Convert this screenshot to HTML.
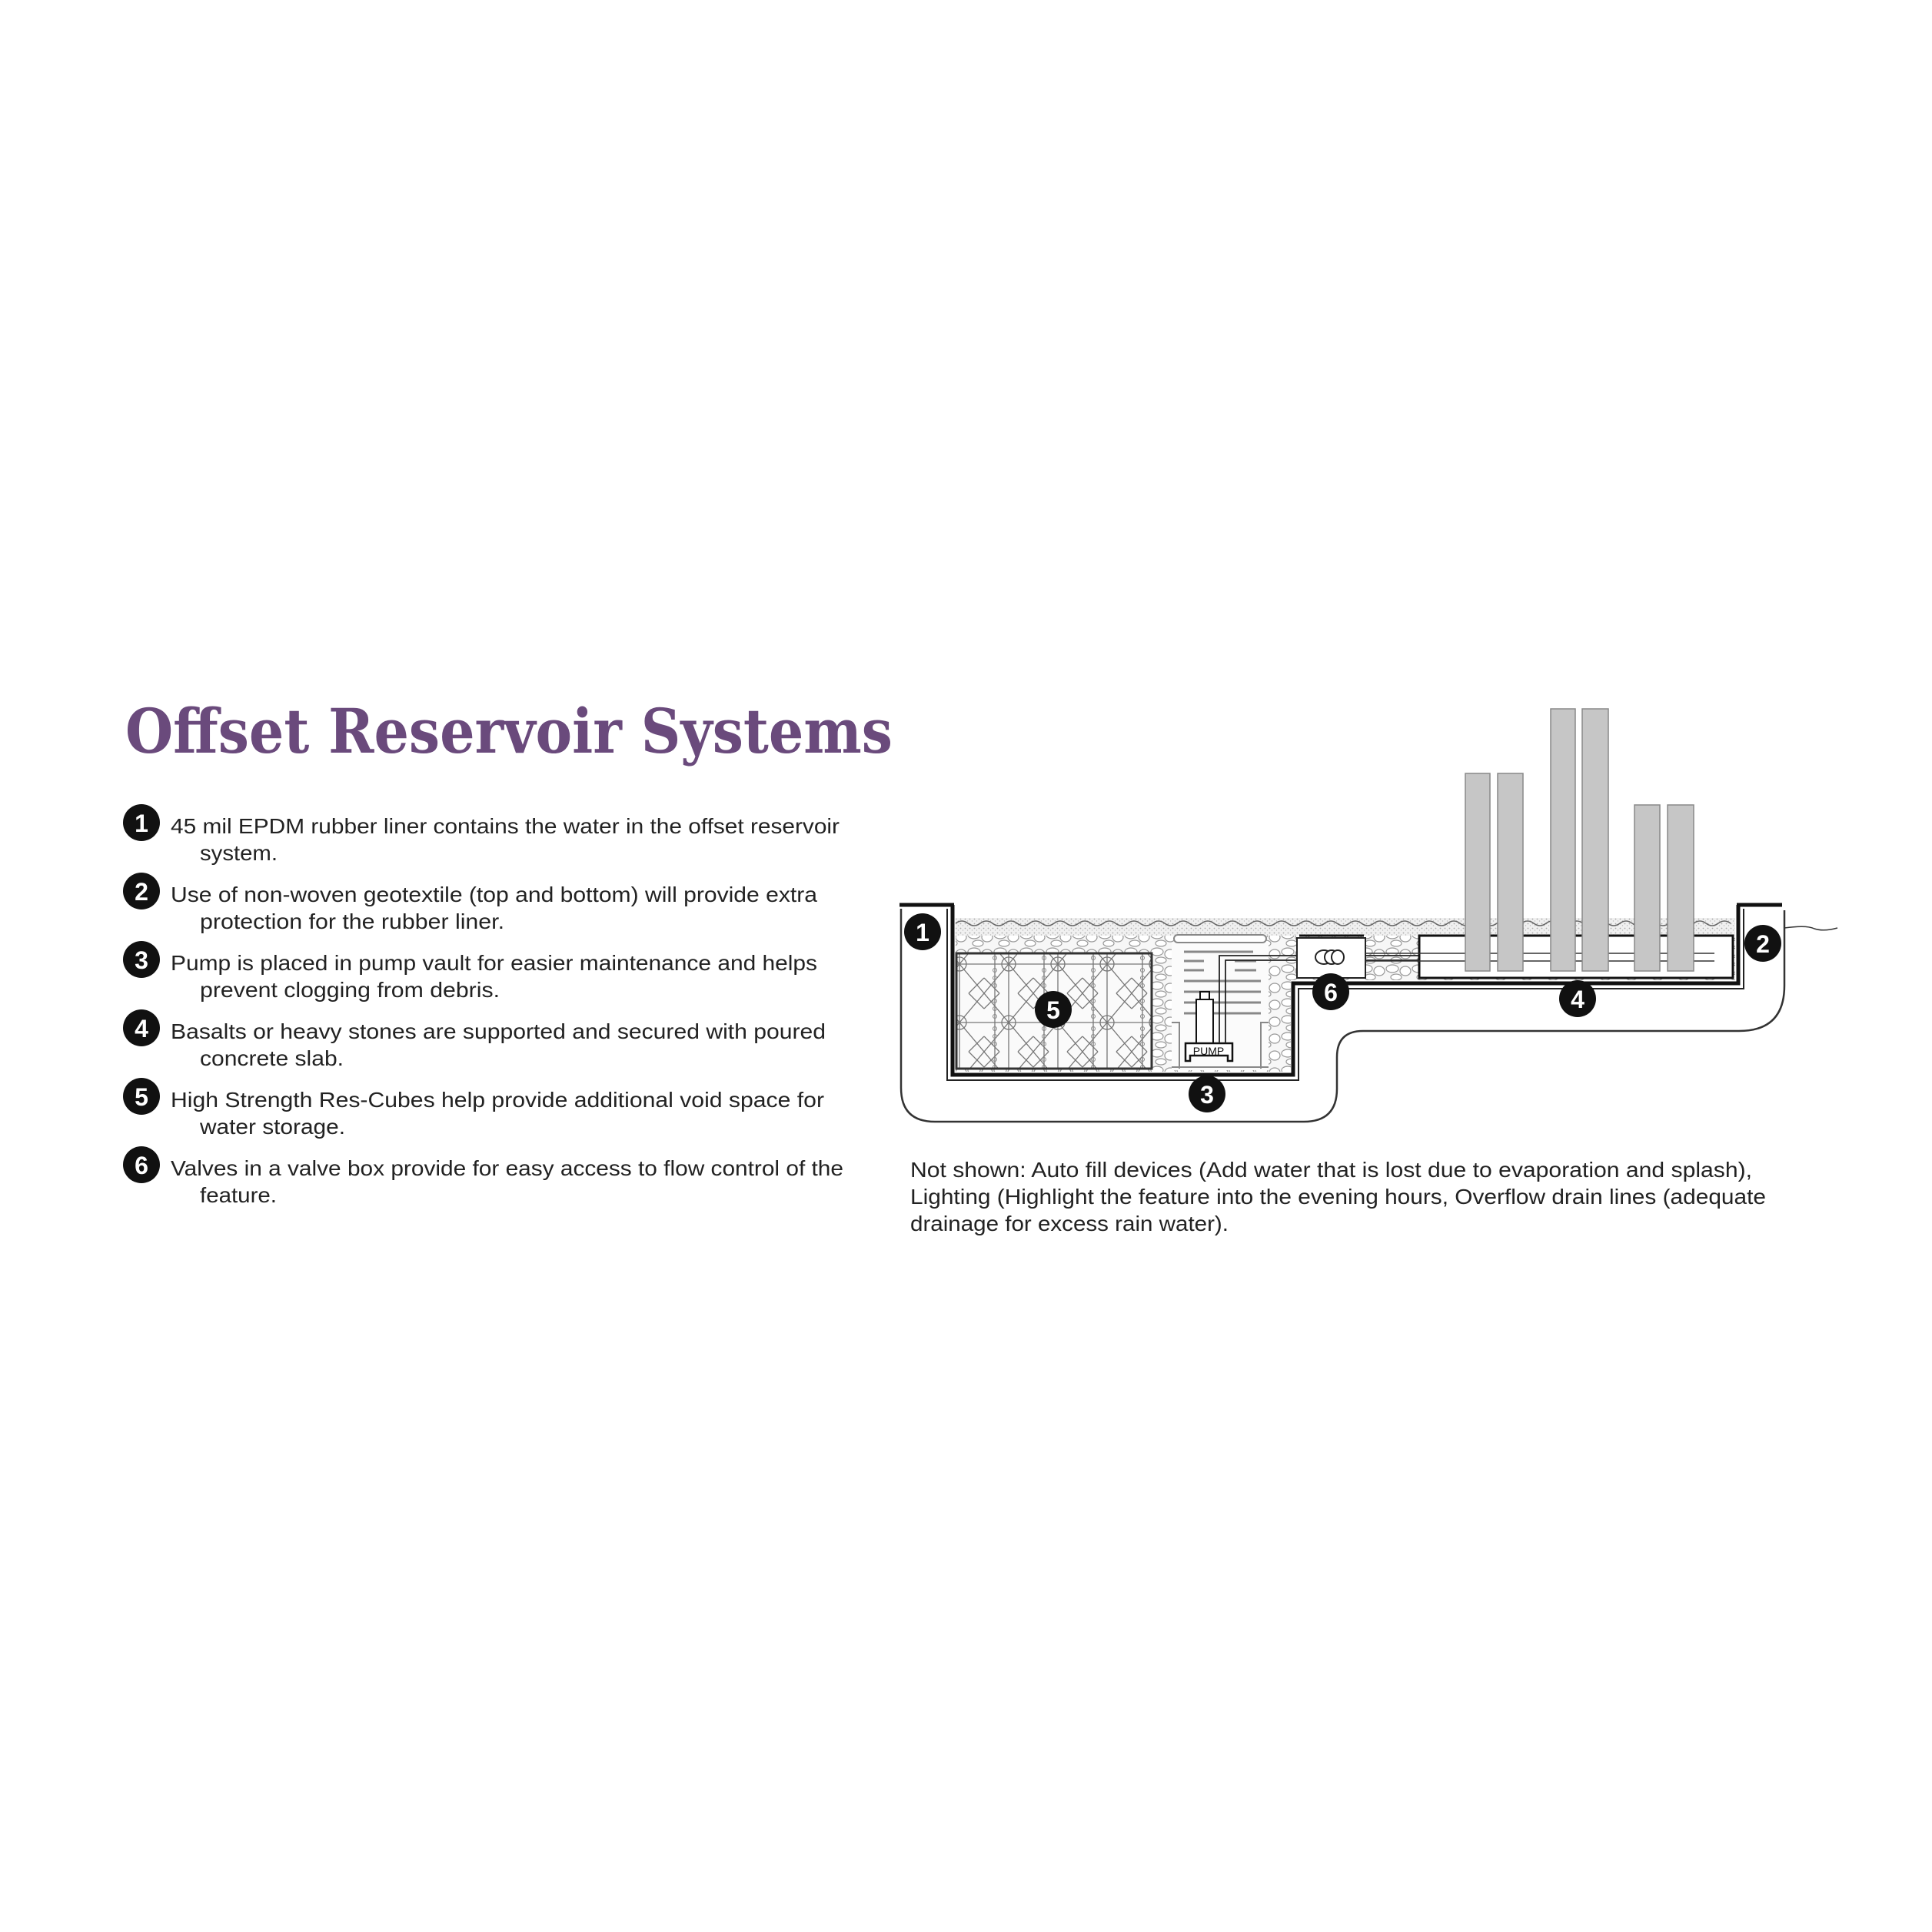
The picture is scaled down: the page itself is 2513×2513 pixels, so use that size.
<!DOCTYPE html>
<html><head><meta charset="utf-8"><style>
html,body{margin:0;padding:0;background:#fff;}
svg{display:block;}
</style></head><body>
<svg width="2513" height="2513" viewBox="0 0 2513 2513" xmlns="http://www.w3.org/2000/svg">
<defs>
<pattern id="grav" width="6" height="6" patternUnits="userSpaceOnUse">
<rect width="6" height="6" fill="#f0f0f0"/><circle cx="1.5" cy="1.5" r="0.9" fill="#aaa"/><circle cx="4.5" cy="4" r="0.7" fill="#bbb"/>
</pattern>
<pattern id="stone" width="34" height="22" patternUnits="userSpaceOnUse">
<rect width="34" height="22" fill="#f7f7f7"/>
<ellipse cx="9" cy="6" rx="8" ry="5" fill="#fff" stroke="#999" stroke-width="1.2"/>
<ellipse cx="26" cy="9" rx="7" ry="6" fill="#fff" stroke="#999" stroke-width="1.2"/>
<ellipse cx="14" cy="17" rx="7" ry="4" fill="#fff" stroke="#999" stroke-width="1.2"/>
</pattern>
<pattern id="cube" width="64" height="76" patternUnits="userSpaceOnUse">
<rect width="64" height="76" fill="#fafafa"/>
<g stroke="#777" stroke-width="1.3" fill="none">
<path d="M0,0 L32,38 L0,76 M64,0 L32,38 L64,76 M0,38 H64 M32,0 V76"/>
<path d="M0,20 L20,0 M44,0 L64,20 M0,56 L20,76 M44,76 L64,56"/>
<circle cx="32" cy="38" r="9"/>
<line x1="14" y1="0" x2="14" y2="76"/>
</g>
<g fill="none" stroke="#888" stroke-width="1"><circle cx="14" cy="10" r="2.5"/><circle cx="14" cy="20" r="2.5"/><circle cx="14" cy="30" r="2.5"/><circle cx="14" cy="46" r="2.5"/><circle cx="14" cy="56" r="2.5"/><circle cx="14" cy="66" r="2.5"/></g>
</pattern>
</defs>

<text x="163" y="979" font-family="'DejaVu Serif','Liberation Serif',serif" font-weight="bold" font-size="80" fill="#6a4a7c" textLength="998" lengthAdjust="spacingAndGlyphs">Offset Reservoir Systems</text>

<g font-family="'Liberation Sans',sans-serif" font-size="28" fill="#222">
<g>
<circle cx="184" cy="1070" r="24" fill="#111"/><text x="184" y="1082" font-size="32" font-weight="bold" fill="#fff" text-anchor="middle">1</text>
<text x="222" y="1084" textLength="870" lengthAdjust="spacingAndGlyphs">45 mil EPDM rubber liner contains the water in the offset reservoir</text>
<text x="260" y="1119" textLength="101" lengthAdjust="spacingAndGlyphs">system.</text>
</g>
<g>
<circle cx="184" cy="1159" r="24" fill="#111"/><text x="184" y="1171" font-size="32" font-weight="bold" fill="#fff" text-anchor="middle">2</text>
<text x="222" y="1173" textLength="841" lengthAdjust="spacingAndGlyphs">Use of non-woven geotextile (top and bottom) will provide extra</text>
<text x="260" y="1208" textLength="396" lengthAdjust="spacingAndGlyphs">protection for the rubber liner.</text>
</g>
<g>
<circle cx="184" cy="1248" r="24" fill="#111"/><text x="184" y="1260" font-size="32" font-weight="bold" fill="#fff" text-anchor="middle">3</text>
<text x="222" y="1262" textLength="841" lengthAdjust="spacingAndGlyphs">Pump is placed in pump vault for easier maintenance and helps</text>
<text x="260" y="1297" textLength="390" lengthAdjust="spacingAndGlyphs">prevent clogging from debris.</text>
</g>
<g>
<circle cx="184" cy="1337" r="24" fill="#111"/><text x="184" y="1349" font-size="32" font-weight="bold" fill="#fff" text-anchor="middle">4</text>
<text x="222" y="1351" textLength="852" lengthAdjust="spacingAndGlyphs">Basalts or heavy stones are supported and secured with poured</text>
<text x="260" y="1386" textLength="187" lengthAdjust="spacingAndGlyphs">concrete slab.</text>
</g>
<g>
<circle cx="184" cy="1426" r="24" fill="#111"/><text x="184" y="1438" font-size="32" font-weight="bold" fill="#fff" text-anchor="middle">5</text>
<text x="222" y="1440" textLength="850" lengthAdjust="spacingAndGlyphs">High Strength Res-Cubes help provide additional void space for</text>
<text x="260" y="1475" textLength="189" lengthAdjust="spacingAndGlyphs">water storage.</text>
</g>
<g>
<circle cx="184" cy="1515" r="24" fill="#111"/><text x="184" y="1527" font-size="32" font-weight="bold" fill="#fff" text-anchor="middle">6</text>
<text x="222" y="1529" textLength="875" lengthAdjust="spacingAndGlyphs">Valves in a valve box provide for easy access to flow control of the</text>
<text x="260" y="1564" textLength="100" lengthAdjust="spacingAndGlyphs">feature.</text>
</g>
</g>

<path d="M1172,1182 V1415 Q1172,1459 1216,1459 H1696 Q1739,1459 1739,1416 V1375 Q1739,1341 1773,1341 H2262 Q2321,1341 2321,1282 V1184" fill="none" stroke="#333" stroke-width="2.5"/>
<line x1="1170" y1="1177" x2="1241" y2="1177" stroke="#111" stroke-width="5"/>
<line x1="2259" y1="1177" x2="2318" y2="1177" stroke="#111" stroke-width="5"/>
<path d="M2321,1207 Q2350,1203 2360,1208 Q2372,1212 2390,1207" fill="none" stroke="#333" stroke-width="1.5"/>

<rect x="1243" y="1194" width="1014" height="24" fill="url(#grav)"/>
<rect x="1243" y="1217" width="436" height="177" fill="url(#stone)"/>
<rect x="1679" y="1217" width="578" height="58" fill="url(#stone)"/>
<path d="M1243,1201 q8,-6 16,0 t16,0 t16,0 t16,0 t16,0 t16,0 t16,0 t16,0 t16,0 t16,0 t16,0 t16,0 t16,0 t16,0 t16,0 t16,0 t16,0 t16,0 t16,0 t16,0 t16,0 t16,0 t16,0 t16,0 t16,0 t16,0 t16,0 t16,0 t16,0 t16,0 t16,0 t16,0 t16,0 t16,0 t16,0 t16,0 t16,0 t16,0 t16,0 t16,0 t16,0 t16,0 t16,0 t16,0 t16,0 t16,0 t16,0 t16,0 t16,0 t16,0 t16,0 t16,0 t16,0 t16,0 t16,0 t16,0 t16,0 t16,0 t16,0 t16,0 t16,0 t16,0 t16,0" fill="none" stroke="#666" stroke-width="1.5"/>

<rect x="1244" y="1240" width="254" height="150" fill="url(#cube)" stroke="#333" stroke-width="3"/>

<g>
<rect x="1524" y="1226" width="126" height="166" fill="#fbfbfb"/>
<rect x="1527" y="1216" width="120" height="10" rx="5" fill="#fff" stroke="#888" stroke-width="2"/>
<g stroke="#888" stroke-width="3">
<line x1="1540" y1="1238" x2="1630" y2="1238"/><line x1="1540" y1="1250" x2="1566" y2="1250"/><line x1="1606" y1="1250" x2="1634" y2="1250"/>
<line x1="1540" y1="1262" x2="1566" y2="1262"/><line x1="1606" y1="1262" x2="1634" y2="1262"/>
<line x1="1540" y1="1276" x2="1640" y2="1276"/><line x1="1540" y1="1290" x2="1640" y2="1290"/>
<line x1="1540" y1="1304" x2="1640" y2="1304"/><line x1="1540" y1="1318" x2="1640" y2="1318"/>
</g>
<path d="M1524,1330 h10 v60 M1650,1330 h-10 v60" fill="none" stroke="#888" stroke-width="2"/>
<line x1="1524" y1="1388" x2="1650" y2="1388" stroke="#888" stroke-width="2"/>
<rect x="1556" y="1300" width="22" height="57" fill="#fff" stroke="#111" stroke-width="2"/>
<rect x="1561" y="1290" width="12" height="10" fill="#fff" stroke="#111" stroke-width="2"/>
<path d="M1542,1357 H1603 V1380 H1597 V1373 H1548 V1380 H1542 Z" fill="#fff" stroke="#111" stroke-width="2.5"/>
<text x="1572" y="1372" font-family="'Liberation Sans',sans-serif" font-size="14" text-anchor="middle" fill="#111">PUMP</text>
<path d="M1586,1357 V1243 H1850 M1594,1357 V1249 H1850" fill="none" stroke="#222" stroke-width="1.8"/>
</g>

<rect x="1687" y="1220" width="89" height="52" fill="#fff" stroke="#222" stroke-width="2"/>
<line x1="1690" y1="1217" x2="1774" y2="1217" stroke="#111" stroke-width="3"/>
<ellipse cx="1722" cy="1245" rx="11" ry="9" fill="#fff" stroke="#222" stroke-width="2"/>
<ellipse cx="1732" cy="1245" rx="9" ry="9" fill="#fff" stroke="#222" stroke-width="2"/>
<ellipse cx="1740" cy="1245" rx="8" ry="9" fill="#fff" stroke="#222" stroke-width="2"/>

<rect x="1846" y="1217" width="408" height="55" fill="#fff" stroke="#111" stroke-width="3"/>
<path d="M1776,1240 H2230 M1776,1250 H2230" stroke="#333" stroke-width="1.5" fill="none"/>
<g fill="#c6c6c6" stroke="#888" stroke-width="1.5">
<rect x="1906" y="1006" width="32" height="257"/><rect x="1948" y="1006" width="33" height="257"/>
<rect x="2017" y="922" width="32" height="341"/><rect x="2058" y="922" width="34" height="341"/>
<rect x="2126" y="1047" width="33" height="216"/><rect x="2169" y="1047" width="34" height="216"/>
</g>

<path d="M1239,1177 V1398 H1682 V1279 H2261 V1177" fill="none" stroke="#111" stroke-width="5"/>
<path d="M1232,1182 V1405 H1689 V1286 H2268 V1182" fill="none" stroke="#222" stroke-width="2"/>

<g font-family="'Liberation Sans',sans-serif" font-weight="bold" font-size="32" fill="#fff" text-anchor="middle">
<circle cx="1200" cy="1212" r="24" fill="#111"/><text x="1200" y="1224">1</text>
<circle cx="2293" cy="1227" r="24" fill="#111"/><text x="2293" y="1239">2</text>
<circle cx="1570" cy="1423" r="24" fill="#111"/><text x="1570" y="1435">3</text>
<circle cx="2052" cy="1299" r="24" fill="#111"/><text x="2052" y="1311">4</text>
<circle cx="1370" cy="1313" r="24" fill="#111"/><text x="1370" y="1325">5</text>
<circle cx="1731" cy="1290" r="24" fill="#111"/><text x="1731" y="1302">6</text>
</g>

<g font-family="'Liberation Sans',sans-serif" font-size="28" fill="#222">
<text x="1184" y="1531" textLength="1095" lengthAdjust="spacingAndGlyphs">Not shown: Auto fill devices  (Add water that is lost due to evaporation and splash),</text>
<text x="1184" y="1566" textLength="1113" lengthAdjust="spacingAndGlyphs">Lighting (Highlight the feature into the evening hours, Overflow drain lines (adequate</text>
<text x="1184" y="1601" textLength="414" lengthAdjust="spacingAndGlyphs">drainage for excess rain water).</text>
</g>
</svg>
</body></html>
